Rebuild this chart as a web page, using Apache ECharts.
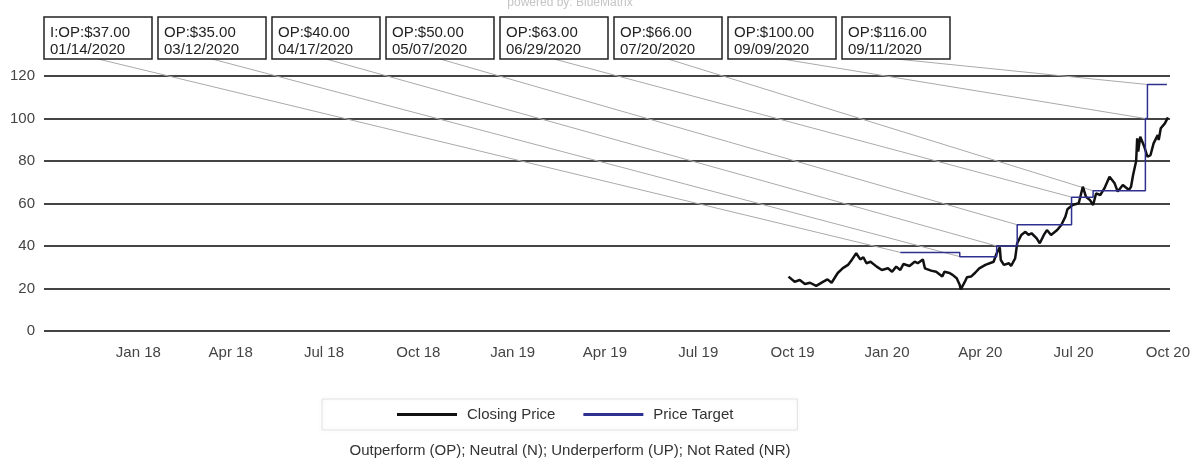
<!DOCTYPE html>
<html>
<head>
<meta charset="utf-8">
<script src="https://cdn.jsdelivr.net/npm/echarts@6/dist/echarts.min.js"></script>
<style>
  html, body { margin: 0; padding: 0; background: #fff; }
  #chart { width: 1204px; height: 468px; }
</style>
</head>
<body>
<div id="chart"></div>
<script>
// closing price
var closeDates = ['2019-09-27','2019-10-03','2019-10-08','2019-10-13','2019-10-18','2019-10-24','2019-10-31','2019-11-04','2019-11-08','2019-11-14',
  '2019-11-19','2019-11-24','2019-11-28','2019-12-02','2019-12-06','2019-12-09','2019-12-12','2019-12-16','2019-12-22','2019-12-27',
  '2020-01-02','2020-01-06','2020-01-10','2020-01-14','2020-01-17','2020-01-23','2020-01-28','2020-01-31','2020-02-05','2020-02-07',
  '2020-02-13','2020-02-18','2020-02-24','2020-02-26','2020-03-02','2020-03-05','2020-03-09','2020-03-12','2020-03-13','2020-03-17',
  '2020-03-19','2020-03-23','2020-03-27','2020-03-31','2020-04-06','2020-04-14','2020-04-17','2020-04-20','2020-04-21','2020-04-24',
  '2020-04-29','2020-05-01','2020-05-05','2020-05-07','2020-05-11','2020-05-15','2020-05-18','2020-05-21','2020-05-26','2020-05-29',
  '2020-06-02','2020-06-05','2020-06-09','2020-06-15','2020-06-19','2020-06-23','2020-06-25','2020-06-30','2020-07-06','2020-07-10',
  '2020-07-13','2020-07-17','2020-07-20','2020-07-23','2020-07-27','2020-07-31','2020-08-05','2020-08-10','2020-08-13','2020-08-18',
  '2020-08-24','2020-08-26','2020-08-28','2020-08-31','2020-09-01','2020-09-02','2020-09-04','2020-09-08','2020-09-11','2020-09-14',
  '2020-09-17','2020-09-21','2020-09-22','2020-09-24','2020-09-28','2020-10-01'];
var closeValues = [25.6,23.2,24.0,22.1,22.7,21.2,23.2,24.3,22.7,27.3,
  29.6,31.1,33.7,36.6,33.7,34.7,31.9,32.6,30.3,28.7,
  29.5,27.9,30.3,28.7,31.5,30.6,32.6,31.9,33.7,29.5,
  28.4,27.9,25.6,27.9,27.3,26.4,24.8,21.6,19.6,23.2,
  25.3,25.6,27.4,29.5,31.1,32.6,36.6,39.4,33.4,31.1,
  31.9,30.6,34.2,41.3,45.2,46.7,45.2,46.0,43.6,41.3,
  45.2,47.5,45.2,47.5,49.9,53.8,57.3,59.3,60.1,67.9,
  63.2,61.6,59.3,64.8,64.0,67.1,72.6,69.5,65.6,68.7,
  66.4,67.9,73.4,80.0,90.7,84.4,91.4,86.7,82.0,82.8,
  88.3,92.2,89.9,95.4,97.7,100.5];

// price target history
var targetDates = ['2020-01-14','2020-03-12','2020-04-17','2020-05-07','2020-06-29','2020-07-20','2020-09-09','2020-09-11'];
var targetValues = [37, 35, 40, 50, 63, 66, 100, 116];
var targetRatings = ['I:OP', 'OP', 'OP', 'OP', 'OP', 'OP', 'OP', 'OP'];
var targetEnd = '2020-09-30';

// axis ticks
var tickDates = ['2018-01-01','2018-04-01','2018-07-01','2018-10-01','2019-01-01','2019-04-01',
  '2019-07-01','2019-10-01','2020-01-01','2020-04-01','2020-07-01','2020-10-01'];
var monthNames = ['Jan','Feb','Mar','Apr','May','Jun','Jul','Aug','Sep','Oct','Nov','Dec'];
var axisStart = '2017-10-01';
var axisEnd = '2020-10-03';

function ts(s) {
  var p = s.split('-').map(Number);
  return new Date(p[0], p[1] - 1, p[2]).getTime();
}
function usDate(s) {
  var p = s.split('-');
  return p[1] + '/' + p[2] + '/' + p[0];
}
function tickText(s) {
  var p = s.split('-');
  return monthNames[Number(p[1]) - 1] + ' ' + p[0].slice(2);
}

var chart = echarts.init(document.getElementById('chart'));

var closeData = closeDates.map(function (d, i) { return [ts(d), closeValues[i]]; });
var targetData = targetDates.map(function (d, i) { return [ts(d), targetValues[i]]; });
targetData.push([ts(targetEnd), targetValues[targetValues.length - 1]]);

chart.setOption({
  animation: false,
  textStyle: { fontFamily: 'Liberation Sans', color: '#333' },
  grid: { left: 44, right: 34, top: 76, bottom: 137 },
  legend: {
    data: ['Closing Price', 'Price Target'],
    left: 322,
    top: 399,
    padding: [8, 64, 8, 75],
    itemGap: 28,
    itemWidth: 60,
    itemHeight: 3,
    icon: 'rect',
    borderColor: '#e2e2e2',
    borderWidth: 1,
    shadowBlur: 4,
    shadowColor: 'rgba(0,0,0,0.08)',
    textStyle: { fontSize: 15, color: '#333', padding: [0, 0, 0, 5] }
  },
  xAxis: {
    type: 'time',
    min: ts(axisStart),
    max: ts(axisEnd),
    axisLine: { show: false },
    axisTick: { show: false },
    splitLine: { show: false },
    axisLabel: { show: false }
  },
  yAxis: {
    type: 'value',
    min: 0,
    max: 120,
    interval: 20,
    axisLine: { show: false },
    axisTick: { show: false },
    axisLabel: { fontSize: 15, color: '#444', margin: 9 },
    splitLine: { lineStyle: { color: '#444', width: 2 } }
  },
  series: [
    {
      name: 'Closing Price',
      type: 'line',
      data: closeData,
      showSymbol: false,
      itemStyle: { color: '#111' },
      lineStyle: { color: '#111', width: 2.5 },
      z: 3
    },
    {
      name: 'Price Target',
      type: 'line',
      step: 'end',
      data: targetData,
      showSymbol: false,
      itemStyle: { color: '#2e3190' },
      lineStyle: { color: '#2e3190', width: 1.5 },
      z: 4
    }
  ]
});

var graphics = [];

// quarter labels placed through the time scale
tickDates.forEach(function (d) {
  var p = chart.convertToPixel({ gridIndex: 0 }, [ts(d), 0]);
  graphics.push({
    type: 'text',
    x: p[0],
    y: p[1] + 14,
    style: { text: tickText(d), font: '15px "Liberation Sans"', fill: '#444', align: 'center' }
  });
});

// annotation boxes along the top, with leader lines to each target change
var boxLeft = 44, boxTop = 17, boxW = 108, boxH = 42, boxStep = 114;
targetDates.forEach(function (d, i) {
  var x0 = boxLeft + i * boxStep;
  var end = chart.convertToPixel({ gridIndex: 0 }, [ts(d), targetValues[i]]);
  graphics.push({
    type: 'line',
    z: 1,
    shape: { x1: x0 + boxW / 2, y1: boxTop + boxH, x2: end[0], y2: end[1] },
    style: { stroke: '#aaa', lineWidth: 1 }
  });
  graphics.push({
    type: 'rect',
    z: 5,
    shape: { x: x0, y: boxTop, width: boxW, height: boxH },
    style: { fill: '#fff', stroke: '#222', lineWidth: 1.5 }
  });
  graphics.push({
    type: 'text',
    z: 6,
    x: x0 + 6,
    y: boxTop + 7,
    style: {
      text: targetRatings[i] + ':$' + targetValues[i].toFixed(2) + '\n' + usDate(d),
      font: '15px "Liberation Sans"',
      fill: '#222',
      lineHeight: 17
    }
  });
});
graphics.push({
  type: 'text',
  x: 570,
  y: -3,
  style: { text: 'powered by: BlueMatrix', font: '12px "Liberation Sans"', fill: '#c4c4c4', align: 'center' }
});
graphics.push({
  type: 'text',
  x: 570,
  y: 451,
  style: {
    text: 'Outperform (OP); Neutral (N); Underperform (UP); Not Rated (NR)',
    font: '15px "Liberation Sans"',
    fill: '#333',
    align: 'center',
    verticalAlign: 'middle'
  }
});
chart.setOption({ graphic: graphics });
</script>
</body>
</html>
